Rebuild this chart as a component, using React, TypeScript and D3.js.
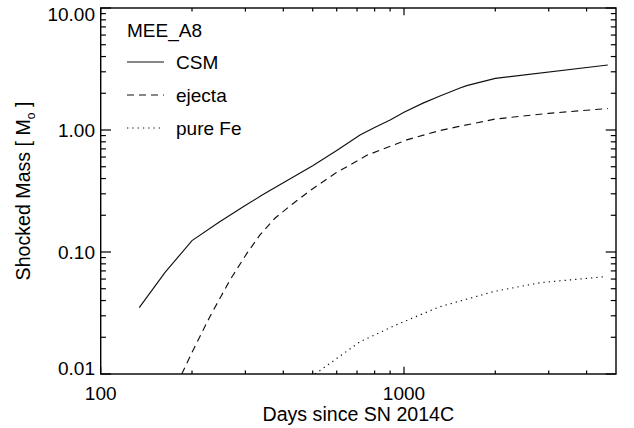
import React from "react";
import * as d3 from "d3";

const csmDays = [134, 163, 200, 244, 295, 344, 400, 500, 600, 716, 800, 900, 1000, 1155, 1314, 1530, 1610, 2000, 4700];
const csmMass = [0.035, 0.068, 0.124, 0.174, 0.235, 0.297, 0.37, 0.51, 0.68, 0.91, 1.05, 1.21, 1.4, 1.66, 1.9, 2.21, 2.31, 2.65, 3.41];

const ejectaDays = [185, 200, 229, 267, 303, 335, 376, 431, 500, 592, 754, 1021, 1314, 1492, 2000, 3000, 4700];
const ejectaMass = [0.01, 0.015, 0.0295, 0.059, 0.097, 0.138, 0.19, 0.25, 0.33, 0.44, 0.62, 0.83, 0.99, 1.06, 1.23, 1.37, 1.5];

const feDays = [509, 585, 716, 970, 1314, 1969, 2808, 4600];
const feMass = [0.01, 0.0128, 0.0184, 0.0261, 0.0356, 0.0473, 0.056, 0.0628];

const yTickValues = [10, 1, 0.1, 0.01];
const yTickLabels = ["10.00", "1.00", "0.10", "0.01"];
const xTickValues = [100, 1000];
const xTickLabels = ["100", "1000"];

const legendTitle = "MEE_A8";
const seriesNames = ["CSM", "ejecta", "pure Fe"];

const W = 634;
const H = 428;
const L = 100.7;
const R = 616;
const T = 8;
const B = 374;
const FONT = "'Liberation Sans', Arial, Helvetica, sans-serif";
const FS = 19;
const FT = 19.6;

export default function App() {
  const x = d3.scaleLog().domain([100, 5000]).range([L, R]);
  const y = d3.scaleLog().domain([0.01, 10]).range([B, T]);

  const line = d3
    .line<[number, number]>()
    .x((d) => x(d[0]))
    .y((d) => y(d[1]));

  const series = [
    { days: csmDays, mass: csmMass, dash: undefined as string | undefined },
    { days: ejectaDays, mass: ejectaMass, dash: "7,5" },
    { days: feDays, mass: feMass, dash: "1.3,4" },
  ];

  const xMinor = x.ticks().filter((t) => t > 100 && t < 5000 && !xTickValues.includes(t));
  const yMinor = y.ticks().filter((t) => !yTickValues.some((v) => Math.abs(v - t) < 1e-9));

  const xMaj = 7.3;
  const xMin = 3.6;
  const yMaj = 10.3;
  const yMin = 5.2;

  const yLabelCenters = yTickValues.map((v, i) => {
    const py = y(v);
    if (i === 0) return py + 6;
    if (i === yTickValues.length - 1) return py - 6;
    return py;
  });

  return (
    <div style={{ position: "fixed", left: 0, top: 0 }}>
      <svg width={W} height={H} style={{ display: "block", background: "#fff" }} fontFamily={FONT}>
        <defs>
          <clipPath id="plotclip">
            <rect x={L} y={T} width={R - L} height={B - T} />
          </clipPath>
        </defs>
        <g clipPath="url(#plotclip)">
          {series.map((s, i) => (
            <path
              key={i}
              d={line(s.days.map((d, j) => [d, s.mass[j]] as [number, number])) || ""}
              fill="none"
              stroke="#111"
              strokeWidth={1.15}
              strokeDasharray={s.dash}
            />
          ))}
        </g>
        <rect x={L} y={T} width={R - L} height={B - T} fill="none" stroke="#000" strokeWidth={1.4} />
        {xTickValues.map((t) => (
          <g key={"xM" + t}>
            <line x1={x(t)} x2={x(t)} y1={B} y2={B - xMaj} stroke="#000" strokeWidth={1.2} />
            <line x1={x(t)} x2={x(t)} y1={T} y2={T + xMaj} stroke="#000" strokeWidth={1.2} />
          </g>
        ))}
        {xMinor.map((t) => (
          <g key={"xm" + t}>
            <line x1={x(t)} x2={x(t)} y1={B} y2={B - xMin} stroke="#000" strokeWidth={1.2} />
            <line x1={x(t)} x2={x(t)} y1={T} y2={T + xMin} stroke="#000" strokeWidth={1.2} />
          </g>
        ))}
        {yTickValues.map((t) => (
          <g key={"yM" + t}>
            <line x1={L} x2={L + yMaj} y1={y(t)} y2={y(t)} stroke="#000" strokeWidth={1.2} />
            <line x1={R} x2={R - yMaj} y1={y(t)} y2={y(t)} stroke="#000" strokeWidth={1.2} />
          </g>
        ))}
        {yMinor.map((t) => (
          <g key={"ym" + t}>
            <line x1={L} x2={L + yMin} y1={y(t)} y2={y(t)} stroke="#000" strokeWidth={1.2} />
            <line x1={R} x2={R - yMin} y1={y(t)} y2={y(t)} stroke="#000" strokeWidth={1.2} />
          </g>
        ))}
        {yTickLabels.map((lab, i) => (
          <text
            key={"yl" + i}
            x={95}
            y={yLabelCenters[i]}
            dy="0.36em"
            textAnchor="end"
            fontSize={FS}
            fill="#000"
          >
            {lab}
          </text>
        ))}
        {xTickLabels.map((lab, i) => (
          <text key={"xl" + i} x={x(xTickValues[i])} y={400} textAnchor="middle" fontSize={FS} fill="#000">
            {lab}
          </text>
        ))}
        <text x={(L + R) / 2} y={421} textAnchor="middle" fontSize={FT} fill="#000">
          Days since SN 2014C
        </text>
        <text transform={`translate(30, ${(T + B) / 2}) rotate(-90)`} textAnchor="middle" fontSize={FT} fill="#000">
          Shocked Mass [ M
          <tspan fontSize={12} dy={5}>
            o
          </tspan>
          <tspan dy={-5}> ]</tspan>
        </text>
        <text x={127} y={37} fontSize={FS} fill="#000">
          {legendTitle}
        </text>
        {seriesNames.map((name, i) => {
          const ly = 62 + i * 33;
          return (
            <g key={"lg" + i}>
              <line
                x1={127}
                x2={164}
                y1={ly}
                y2={ly}
                stroke="#111"
                strokeWidth={1.15}
                strokeDasharray={series[i].dash}
              />
              <text x={176} y={ly + 6.5} fontSize={FS} fill="#000">
                {name}
              </text>
            </g>
          );
        })}
      </svg>
    </div>
  );
}
